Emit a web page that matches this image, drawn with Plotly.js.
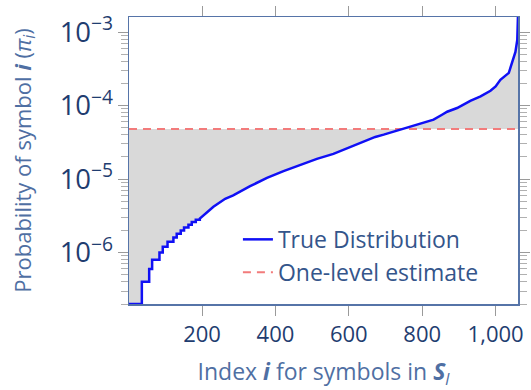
<!DOCTYPE html>
<html>
<head>
<meta charset="utf-8">
<script src="https://cdn.plot.ly/plotly-3.0.1.min.js"></script>
<style>html,body{margin:0;padding:0;background:#fff;}#chart{width:531px;height:390px;}</style>
</head>
<body>
<div id="chart"></div>
<script>
// Quantised low-probability region (drawn as steps)
const stepIdx  = [1, 36, 56, 64, 84, 93, 106, 122, 131, 142, 151, 163, 172, 183];
const stepProb = [2e-7, 4e-7, 6e-7, 8e-7, 1.0e-6, 1.2e-6, 1.4e-6, 1.6e-6, 1.8e-6, 2.0e-6, 2.2e-6, 2.4e-6, 2.6e-6, 2.8e-6];
// Smooth region of the sorted true distribution
const curveIdx  = [194, 231, 263, 285, 331, 377, 422, 467, 513, 558, 604, 631, 672, 695, 740, 786, 831, 854, 868, 895, 931, 959, 986, 1000, 1013, 1036, 1045, 1054, 1059, 1060, 1061];
const curveProb = [2.9e-6, 4.2e-6, 5.4e-6, 6.0e-6, 8.0e-6, 1.04e-5, 1.28e-5, 1.54e-5, 1.88e-5, 2.2e-5, 2.74e-5, 3.1e-5, 3.74e-5, 4.02e-5, 4.7e-5, 5.5e-5, 6.43e-5, 7.5e-5, 8.24e-5, 9.25e-5, 1.16e-4, 1.33e-4, 1.59e-4, 1.82e-4, 2.24e-4, 2.78e-4, 3.92e-4, 5.36e-4, 7.8e-4, 1.13e-3, 1.7e-3];
// One-level estimate
const estimateProb = 4.8e-5;
const xTicks = [200, 400, 600, 800, 1000];
const seriesNames = ['True Distribution', 'One-level estimate'];

// build the step+curve path
const px = [], py = [];
for (let i = 0; i < stepIdx.length; i++) {
  px.push(stepIdx[i]); py.push(stepProb[i]);
  const nextX = (i + 1 < stepIdx.length) ? stepIdx[i + 1] : curveIdx[0];
  px.push(nextX); py.push(stepProb[i]);
}
for (let i = 0; i < curveIdx.length; i++) { px.push(curveIdx[i]); py.push(curveProb[i]); }
const estX = [px[0], px[px.length - 1]], estY = [estimateProb, estimateProb];

const FONT = 'Open Sans, sans-serif';
const traces = [
  {x: estX, y: estY, mode: 'lines', line: {width: 0, color: 'rgba(0,0,0,0)'}, showlegend: false, hoverinfo: 'skip'},
  {x: px, y: py, mode: 'lines', line: {width: 0, color: 'rgba(0,0,0,0)'}, fill: 'tonexty', fillcolor: '#d9d9d9', showlegend: false, hoverinfo: 'skip'},
  {x: estX, y: estY, mode: 'lines', name: seriesNames[1], line: {color: '#f27b7b', width: 2, dash: '8px,6px'}},
  {x: px, y: py, mode: 'lines', name: seriesNames[0], line: {color: '#1010f5', width: 2.5}}
];

const layout = {
  width: 531, height: 390,
  margin: {l: 129, r: 13, t: 17, b: 86},
  paper_bgcolor: '#fff', plot_bgcolor: '#fff',
  separators: '.,',
  font: {family: FONT, color: '#1f3d70'},
  showlegend: true,
  legend: {x: 0.28, y: 0.3, xanchor: 'left', yanchor: 'top', bgcolor: 'rgba(255,255,255,0)',
           font: {size: 23, color: '#34558b', family: FONT}, traceorder: 'reversed', tracegroupgap: 0},
  xaxis: {
    range: [1, 1061], tickvals: xTicks, ticktext: xTicks.map(v => v.toLocaleString('en-US')),
    showgrid: false, zeroline: false, showline: true, linecolor: '#5674a8', linewidth: 1.5,
    mirror: 'allticks', ticks: 'outside', ticklen: 10, tickcolor: '#9a9a9a', tickwidth: 1,
    tickfont: {size: 22, color: '#1f3d70', family: FONT},
    title: {text: 'Index <b><i>i</i></b> for symbols in <b><i>S</i></b><sub><i>l</i></sub>', font: {size: 23, color: '#4f6fa3', family: FONT}, standoff: 22}
  },
  yaxis: {
    type: 'log', range: [Math.log10(2e-7), Math.log10(1.6e-3)], dtick: 1,
    exponentformat: 'power', showexponent: 'all',
    showgrid: false, zeroline: false, showline: true, linecolor: '#5674a8', linewidth: 1.5,
    mirror: 'allticks', ticks: 'outside', ticklen: 10, tickcolor: '#9a9a9a', tickwidth: 1,
    minor: {ticks: 'outside', ticklen: 7, tickcolor: '#b0b0b0', dtick: 'D1', showgrid: false},
    tickfont: {size: 22, color: '#1f3d70', family: FONT},
    title: {text: 'Probability of symbol <b><i>i</i></b> (<i>π</i><sub><i>i</i></sub>)', font: {size: 22, color: '#4f6fa3', family: FONT}, standoff: 22}
  }
};
Plotly.newPlot('chart', traces, layout, {staticPlot: true, displayModeBar: false});
</script>
</body>
</html>
